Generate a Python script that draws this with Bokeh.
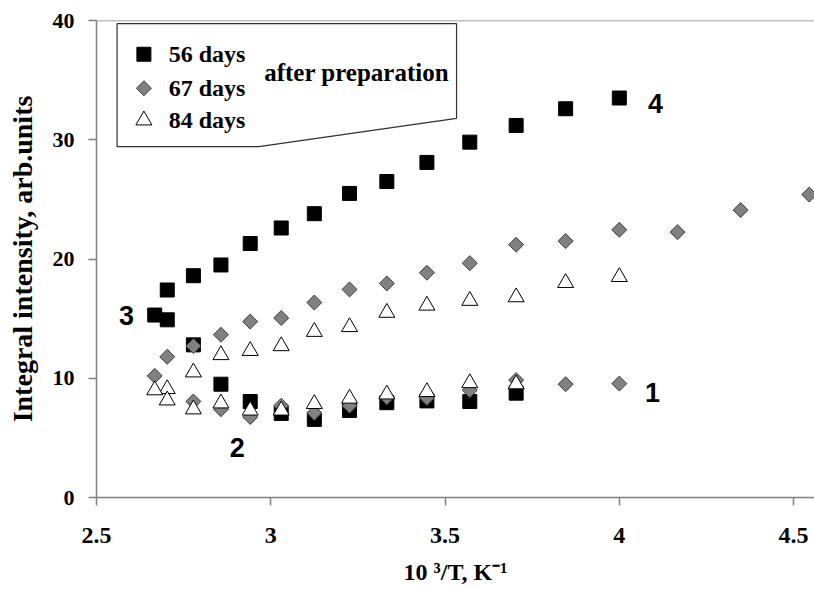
from bokeh.plotting import figure
from bokeh.models import Range1d, Span, FixedTicker
from bokeh.core.properties import value
from bokeh.embed import file_html
from bokeh.resources import INLINE
import numpy as np

# ---- data ----
x_ticks = [2.5, 3.0, 3.5, 4.0, 4.5]
x_tick_labels = ["2.5", "3", "3.5", "4", "4.5"]
y_ticks = [0, 10, 20, 30, 40]

# 56 days after preparation (squares)
days56_x = [4.0, 3.846, 3.704, 3.571, 3.448, 3.333, 3.226, 3.125, 3.030, 2.941, 2.857, 2.778, 2.703, 2.667, 2.703,
            2.778, 2.857, 2.941, 3.030, 3.125, 3.226, 3.333, 3.448, 3.571, 3.704]
days56_y = [33.5, 32.6, 31.2, 29.8, 28.1, 26.5, 25.5, 23.8, 22.6, 21.3, 19.5, 18.6, 17.4, 15.3, 14.9,
            12.8, 9.5, 8.05, 7.05, 6.55, 7.3, 7.95, 8.1, 8.05, 8.75]

# 67 days after preparation (diamonds)
days67_x = [4.545, 4.348, 4.167, 4.0, 3.846, 3.704, 3.571, 3.448, 3.333, 3.226, 3.125, 3.030, 2.941, 2.857, 2.778,
            2.703, 2.667, 2.778, 2.857, 2.941, 3.030, 3.125, 3.226, 3.333, 3.448, 3.571, 3.704, 3.846, 4.0]
days67_y = [25.4, 24.1, 22.25, 22.45, 21.5, 21.2, 19.65, 18.85, 17.95, 17.45, 16.35, 15.05, 14.75, 13.65, 12.7,
            11.8, 10.2, 8.05, 7.4, 6.75, 7.7, 7.1, 7.7, 8.4, 8.35, 9.0, 9.85, 9.5, 9.55]

# 84 days after preparation (triangles)
days84_x = [4.0, 3.846, 3.704, 3.571, 3.448, 3.333, 3.226, 3.125, 3.030, 2.941, 2.857, 2.778, 2.703, 2.667,
            2.703, 2.778, 2.857, 2.941, 3.030, 3.125, 3.226, 3.333, 3.448, 3.571, 3.704]
days84_y = [18.5, 18.0, 16.8, 16.5, 16.1, 15.5, 14.3, 13.9, 12.7, 12.3, 11.95, 10.5, 9.1, 9.0,
            8.15, 7.4, 7.9, 7.3, 7.3, 7.85, 8.3, 8.65, 8.85, 9.6, 9.5]

series_names = ["56 days", "67 days", "84 days"]
curve_labels = ["1", "2", "3", "4"]

# ---- layout / annotation positions ----
curve_label_x = [4.095, 2.904, 2.586, 4.104]
curve_label_y = [8.8, 4.2, 15.3, 33.0]
legend_box_x = [2.559, 3.533, 3.533, 2.966, 2.559]
legend_box_y = [39.73, 39.73, 31.8, 29.42, 29.42]
legend_marker_x = 2.636
legend_text_x = 2.707
legend_row_y = [37.17, 34.32, 31.63]

GRAY = "#808080"
SERIF = "Liberation Serif"

p = figure(width=814, height=589, output_backend="svg", toolbar_location=None,
           x_range=Range1d(2.5, 4.56), y_range=Range1d(0, 40),
           min_border_left=96, min_border_right=0, min_border_top=20, min_border_bottom=92)
p.xgrid.visible = False
p.ygrid.visible = False
p.outline_line_color = None
p.background_fill_color = "white"
p.border_fill_color = "white"

xax = p.xaxis[0]
yax = p.yaxis[0]
xax.ticker = FixedTicker(ticks=x_ticks)
xax.major_label_overrides = {t: s for t, s in zip(x_ticks, x_tick_labels)}
yax.ticker = FixedTicker(ticks=y_ticks)

for ax in (xax, yax):
    ax.axis_line_color = GRAY
    ax.axis_line_width = 1.5
    ax.major_tick_line_color = GRAY
    ax.major_tick_line_width = 1.5
    ax.major_tick_out = 8
    ax.major_tick_in = 0
    ax.minor_tick_line_color = None
    ax.major_label_text_font = SERIF
    ax.major_label_text_font_style = "bold"
    ax.major_label_text_color = "black"
    ax.axis_label_text_font = SERIF
    ax.axis_label_text_font_style = "bold"
    ax.axis_label_text_color = "black"

xax.major_label_text_font_size = "24px"
yax.major_label_text_font_size = "22px"
xax.major_label_standoff = 22
yax.major_label_standoff = 14
xax.axis_label = "10 \u00b3/T, K\u207b\u00b9"
xax.axis_label_text_font_size = "24px"
xax.axis_label_standoff = 13
yax.axis_label = "Integral intensity, arb.units"
yax.axis_label_text_font_size = "28px"
yax.axis_label_standoff = 12

# top frame line
p.add_layout(Span(location=40, dimension="width", line_color=GRAY, line_width=1.5))

# data
p.scatter(days56_x, days56_y, marker="square", size=14, fill_color="black", line_color="black")
p.scatter(days67_x, days67_y, marker="square", angle=np.pi / 4, size=10.6,
          fill_color=GRAY, line_color="#404040", line_width=1)
p.scatter(days84_x, days84_y, marker="triangle", size=16, fill_color="white", line_color="black", line_width=1)

# curve numbers
p.text(curve_label_x, curve_label_y, text=curve_labels, text_font=value("Liberation Sans"),
       text_font_style="bold", text_font_size="27px", text_align="center", text_baseline="middle",
       text_color="black")

# legend box
p.patch(legend_box_x, legend_box_y, fill_color="white", line_color="#303030", line_width=1.2)
p.scatter([legend_marker_x], [legend_row_y[0]], marker="square", size=14, fill_color="black", line_color="black")
p.scatter([legend_marker_x], [legend_row_y[1]], marker="square", angle=np.pi / 4, size=10.6,
          fill_color=GRAY, line_color="#404040")
p.scatter([legend_marker_x], [legend_row_y[2]], marker="triangle", size=16, fill_color="white", line_color="black")
p.text([legend_text_x] * 3, legend_row_y, text=series_names, text_font=value(SERIF),
       text_font_style="bold", text_font_size="24px", text_align="left", text_baseline="middle",
       text_color="black")
p.text([2.981], [35.62], text=["after preparation"], text_font=value(SERIF),
       text_font_style="bold", text_font_size="25px", text_align="left", text_baseline="middle",
       text_color="black")

open("out.html", "w").write(file_html(p, INLINE))
